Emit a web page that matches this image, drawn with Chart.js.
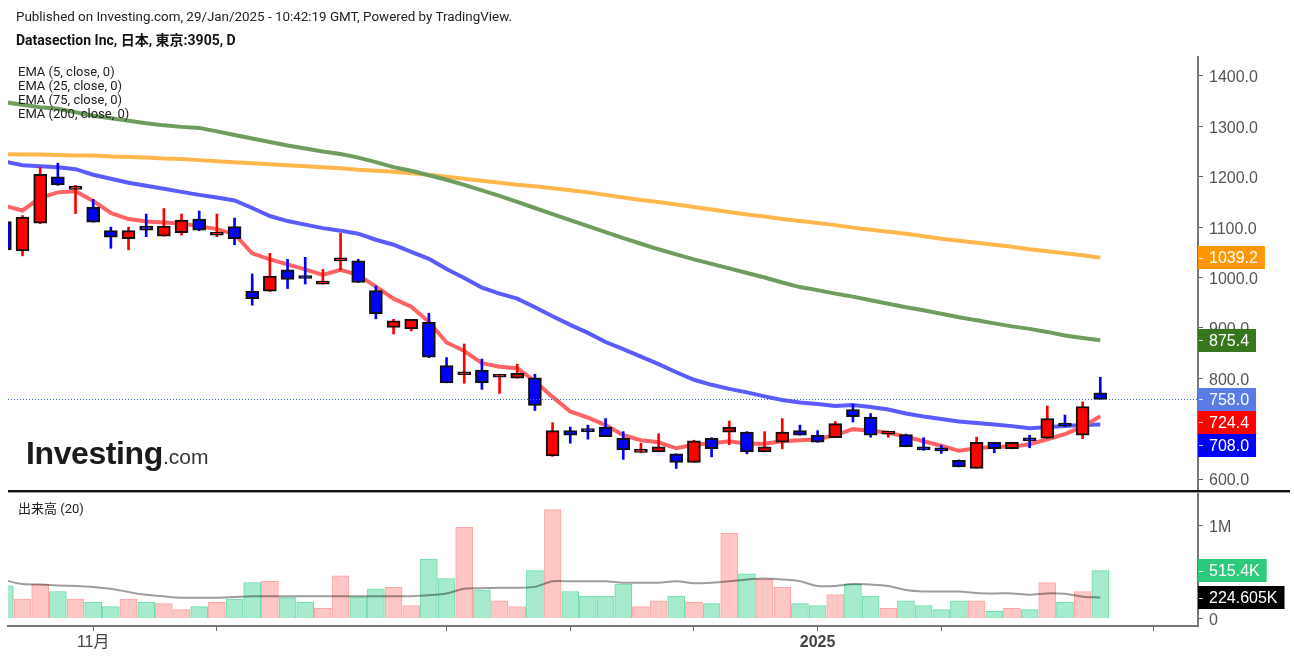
<!DOCTYPE html>
<html>
<head>
<meta charset="utf-8">
<script src="https://cdn.jsdelivr.net/npm/chart.js@4.4.1/dist/chart.umd.min.js"></script>
<style>
  body { margin: 0; background: #fff; }
  #wrap { position: relative; width: 1294px; height: 659px; overflow: hidden; font-family: Roboto, "Noto Sans CJK JP", sans-serif; color: #222; }
  canvas { position: absolute; left: 0; }
  #priceChart { top: 0; }
  #volChart { top: 491px; }
  .txt { position: absolute; white-space: nowrap; }
  #pub { left: 16px; top: 9px; font-size: 13.4px; line-height: 16px; }
  #title { left: 16px; top: 31px; font-size: 14px; line-height: 18px; font-weight: bold; color: #111; }
  #emaLegend { left: 18px; top: 65px; font-size: 13px; line-height: 14px; }
  #volLegend { left: 18px; top: 501px; font-size: 13px; line-height: 16px; }
  #logo { left: 26px; top: 435px; font-family: "Liberation Sans", Arial, sans-serif; color: #1a1a1a; }
  #logo b { font-size: 32px; letter-spacing: -0.4px; }
  #logo span { font-size: 21px; color: #333; }
  #sep { position: absolute; left: 8px; top: 490px; width: 1282px; height: 2px; background: #111; border-bottom: 1px solid #999; }
</style>
</head>
<body>
<div id="wrap">
  <canvas id="priceChart" width="1294" height="491"></canvas>
  <canvas id="volChart" width="1294" height="168"></canvas>
  <div id="sep"></div>
  <div class="txt" id="pub">Published on Investing.com, 29/Jan/2025 - 10:42:19 GMT, Powered by TradingView.</div>
  <div class="txt" id="title">Datasection Inc, 日本, 東京:3905, D</div>
  <div class="txt" id="emaLegend">EMA (5, close, 0)<br>EMA (25, close, 0)<br>EMA (75, close, 0)<br>EMA (200, close, 0)</div>
  <div class="txt" id="volLegend">出来高 (20)</div>
  <div class="txt" id="logo"><b>Investing</b><span>.com</span></div>
</div>
<script>
// daily candles, oldest first
const opens  = [1111,1053,1108,1200,1175,1140,1093,1077,1102,1082,1089,1116,1084,1101,973,973,1015,999,987,1033,1033,974,901,898,911,825,807,816,802,800,801,646,696,695,703,681,653,654,650,633,681,693,693,654,673,696,687,682,738,723,689,688,663,657,637,621,673,660,677,681,711,687,771];
const highs  = [1112,1123,1219,1227,1183,1155,1100,1100,1126,1137,1126,1132,1126,1118,1007,1048,1036,1040,1016,1088,1036,983,917,917,929,841,868,838,808,828,808,712,703,707,720,694,671,690,650,677,682,715,694,694,720,707,696,714,748,730,694,689,682,667,638,683,673,673,687,745,727,753,802];
const lows   = [1045,1043,1107,1183,1127,1110,1058,1055,1081,1082,1084,1093,1081,1065,945,972,978,987,987,1015,990,918,888,894,841,791,790,778,770,800,736,645,671,679,684,639,652,654,621,633,644,668,650,654,660,687,673,682,713,683,683,664,657,651,624,621,652,660,662,680,704,680,758];
const closes = [1055,1120,1205,1184,1176,1110,1080,1093,1094,1102,1114,1094,1085,1077,958,1003,996,998,988,1034,990,928,914,917,842,791,808,791,803,810,746,696,687,694,684,658,654,664,633,676,660,703,654,664,693,687,673,710,724,687,690,664,658,656,624,673,660,673,676,720,705,744,758];

const ema5   = [1142,1133,1158,1169,1171,1152,1128,1116,1111,1109,1107,1102,1096,1086,1048,1036,1026,1016,1005,1015,1005,982,958,942,912,871,854,830,823,820,794,763,734,722,707,687,677,673,661,668,671,675,670,670,675,677,679,687,699,696,692,684,675,666,656,661,664,664,669,679,689,704,724.4];
const ema25  = [1230,1223,1221,1219,1215,1204,1196,1188,1182,1176,1170,1164,1159,1153,1138,1122,1112,1105,1098,1093,1087,1075,1065,1051,1037,1017,999,980,968,958,941,923,906,890,872,858,843,828,812,797,787,779,772,764,757,752,749,745,747,743,738,730,724,719,714,711,708,705,701,703,705,707,708.0];
const ema75  = [1348,1343,1338,1335,1328,1321,1316,1311,1306,1302,1299,1297,1290,1283,1276,1269,1262,1256,1250,1245,1238,1229,1219,1212,1203,1194,1184,1173,1162,1150,1138,1126,1114,1102,1090,1078,1067,1056,1046,1036,1027,1018,1009,1000,990,981,975,968,962,955,948,941,935,928,921,915,909,903,898,892,885,880,875.4];
const ema200 = [1245,1244,1244,1243,1242,1242,1240,1239,1238,1236,1235,1233,1231,1229,1227,1225,1223,1221,1219,1217,1214,1212,1210,1207,1204,1200,1196,1192,1188,1184,1181,1177,1173,1169,1164,1159,1154,1150,1145,1140,1135,1130,1125,1121,1116,1112,1108,1104,1099,1095,1091,1087,1082,1077,1073,1069,1065,1061,1056,1052,1048,1044,1039.2];

// volume in thousands of shares, 20-day average
const volumes = [350,210,370,290,210,174,127,210,174,160,95,127,174,210,385,400,224,174,110,460,234,320,335,140,640,430,980,306,190,127,515,1170,290,240,240,370,127,190,240,174,160,915,480,420,335,160,140,256,370,240,110,190,140,95,190,190,77,110,95,385,174,290,515.4];
const volMA   = [410,370,365,355,350,340,320,285,255,238,224,224,224,232,240,240,240,240,240,240,240,240,240,240,250,270,320,325,330,330,340,400,400,400,400,385,385,385,400,380,385,400,420,430,420,400,350,350,370,365,350,306,290,290,290,275,270,270,255,270,265,235,224.605];

const xTicks = [5, 12, 25, 32, 39, 46, 53, 65];
const xTickLabels = { 5: '11月', 46: '2025' };
const priceTicks = [600, 700, 800, 900, 1000, 1100, 1200, 1300, 1400];
const volTicks = [0, 1000];

const UP = '#ff0000', DOWN = '#0000ff';
const VOL_UP = '#ffc6c6', VOL_UP_B = '#ffa5a5', VOL_DN = '#a6ebcd', VOL_DN_B = '#6edcab';
const AXIS_FONT = "'Liberation Sans', Arial, 'Noto Sans CJK JP', sans-serif";

const isUp = opens.map((o, i) => closes[i] >= o);
const X_MIN = 0.178, X_MAX = 67.53;

function noPad(scale) {
  scale.paddingTop = 0; scale.paddingBottom = 0;
  scale.paddingLeft = 0; scale.paddingRight = 0;
}
function fixWidth(scale) { scale.width = 96; noPad(scale); }

function drawTags(chart, tags, yScaleId) {
  const ctx = chart.ctx, y = chart.scales[yScaleId], area = chart.chartArea;
  const h = 23;
  const items = tags.map(t => ({ ...t, py: y.getPixelForValue(t.v) })).sort((a, b) => a.py - b.py);
  let last = -Infinity;
  items.forEach(t => { if (t.py - h / 2 < last) t.py = last + h / 2; last = t.py + h / 2; });
  ctx.save();
  ctx.font = '16px ' + AXIS_FONT;
  ctx.textBaseline = 'middle';
  items.forEach(t => {
    const w = ctx.measureText(t.text).width + 18;
    ctx.fillStyle = t.bg;
    ctx.fillRect(area.right, Math.round(t.py - h / 2), w, h);
    ctx.fillStyle = 'rgba(255,255,255,0.8)';
    ctx.fillRect(area.right + 1, Math.round(t.py), 4, 1);
    ctx.fillStyle = '#fff';
    ctx.fillText(t.text, area.right + 11, t.py + 1);
  });
  ctx.restore();
}

const priceTagPlugin = {
  id: 'priceTags',
  afterDraw(chart) {
    const ctx = chart.ctx, area = chart.chartArea;
    const yLast = chart.scales.y.getPixelForValue(closes[closes.length - 1]);
    ctx.save();
    ctx.strokeStyle = '#3d62dc';
    ctx.lineWidth = 1;
    ctx.setLineDash([1, 2]);
    ctx.beginPath();
    ctx.moveTo(area.left, Math.round(yLast) + 0.5);
    ctx.lineTo(area.right, Math.round(yLast) + 0.5);
    ctx.stroke();
    ctx.restore();
    drawTags(chart, [
      { v: ema200[ema200.length - 1], bg: '#ff9800', text: ema200[ema200.length - 1].toFixed(1) },
      { v: ema75[ema75.length - 1], bg: '#38761d', text: ema75[ema75.length - 1].toFixed(1) },
      { v: closes[closes.length - 1], bg: '#5a7be6', text: closes[closes.length - 1].toFixed(1) },
      { v: ema5[ema5.length - 1], bg: '#ff0000', text: ema5[ema5.length - 1].toFixed(1) },
      { v: ema25[ema25.length - 1], bg: '#0000ff', text: ema25[ema25.length - 1].toFixed(1) }
    ], 'y');
  }
};

const volTagPlugin = {
  id: 'volTags',
  afterDraw(chart) {
    drawTags(chart, [
      { v: volumes[volumes.length - 1], bg: '#2dc97c', text: volumes[volumes.length - 1] + 'K' },
      { v: volMA[volMA.length - 1], bg: '#000000', text: volMA[volMA.length - 1] + 'K' }
    ], 'y');
  }
};

const emaLine = (data, color, order) => ({
  type: 'line',
  data: data.map((v, i) => ({ x: i, y: v })),
  borderColor: color,
  borderWidth: 4,
  pointRadius: 0,
  tension: 0,
  order: order
});

new Chart(document.getElementById('priceChart'), {
  type: 'bar',
  data: {
    datasets: [
      emaLine(ema200, '#ffb74d', 6),
      emaLine(ema75, '#6e9d5d', 5),
      emaLine(ema25, '#5b5bff', 4),
      emaLine(ema5, '#ff6363', 3),
      {
        data: lows.map((l, i) => ({ x: i, y: [l, highs[i]] })),
        backgroundColor: isUp.map(u => u ? UP : DOWN),
        barThickness: 2,
        grouped: false,
        order: 2
      },
      {
        data: opens.map((o, i) => ({ x: i, y: [o, closes[i]] })),
        backgroundColor: isUp.map(u => u ? UP : DOWN),
        borderColor: '#111',
        borderWidth: 2,
        borderSkipped: false,
        minBarLength: 3,
        barThickness: 13,
        grouped: false,
        order: 1
      }
    ]
  },
  options: {
    responsive: false,
    animation: false,
    events: [],
    layout: { padding: { left: 8, top: 57, right: 0, bottom: 1 } },
    plugins: { legend: { display: false }, tooltip: { enabled: false } },
    scales: {
      x: { type: 'linear', min: X_MIN, max: X_MAX, display: false, offset: false, grid: { offset: false } },
      y: {
        position: 'right',
        min: 578.2, max: 1437.7,
        afterBuildTicks: s => { s.ticks = priceTicks.map(v => ({ value: v })); },
        afterFit: fixWidth,
        ticks: { callback: v => v.toFixed(1), color: '#555', font: { size: 16, family: AXIS_FONT }, padding: 6, labelOffset: 2 },
        grid: { drawOnChartArea: false, drawTicks: true, tickLength: 5, color: '#666' },
        border: { display: true, color: '#777', width: 2 }
      }
    }
  },
  plugins: [priceTagPlugin]
});

new Chart(document.getElementById('volChart'), {
  type: 'bar',
  data: {
    datasets: [
      {
        type: 'line',
        data: volMA.map((v, i) => ({ x: i, y: v })),
        borderColor: 'rgba(0,0,0,0.38)',
        borderWidth: 2,
        pointRadius: 0,
        tension: 0.3,
        order: 0
      },
      {
        data: volumes.map((v, i) => ({ x: i, y: v })),
        backgroundColor: isUp.map(u => u ? VOL_UP : VOL_DN),
        borderColor: isUp.map(u => u ? VOL_UP_B : VOL_DN_B),
        borderWidth: 1,
        barThickness: 17,
        grouped: false,
        order: 1
      }
    ]
  },
  options: {
    responsive: false,
    animation: false,
    events: [],
    layout: { padding: { left: 8, top: 3, right: 0, bottom: 0 } },
    plugins: { legend: { display: false }, tooltip: { enabled: false } },
    scales: {
      x: {
        type: 'linear', min: X_MIN, max: X_MAX, offset: false,
        afterBuildTicks: s => { s.ticks = xTicks.map(v => ({ value: v })); },
        afterFit: s => { s.height = 33; noPad(s); },
        ticks: {
          autoSkip: false, maxRotation: 0, padding: 2, color: '#444',
          callback: v => xTickLabels[v] || '',
          font: c => ({ size: 16, family: AXIS_FONT, weight: (c.tick && c.tick.value === 46) ? 'bold' : 'normal' })
        },
        grid: { drawOnChartArea: false, drawTicks: true, tickLength: 5, color: '#666', offset: false },
        border: { display: true, color: '#777', width: 2 }
      },
      y: {
        position: 'right',
        min: -80.6, max: 1338.7,
        afterBuildTicks: s => { s.ticks = volTicks.map(v => ({ value: v })); },
        afterFit: fixWidth,
        ticks: { callback: v => v === 0 ? '0' : (v / 1000) + 'M', color: '#555', font: { size: 16, family: AXIS_FONT }, padding: 6, labelOffset: 2 },
        grid: { drawOnChartArea: false, drawTicks: true, tickLength: 5, color: '#666' },
        border: { display: true, color: '#777', width: 2 }
      }
    }
  },
  plugins: [volTagPlugin]
});
</script>
</body>
</html>
